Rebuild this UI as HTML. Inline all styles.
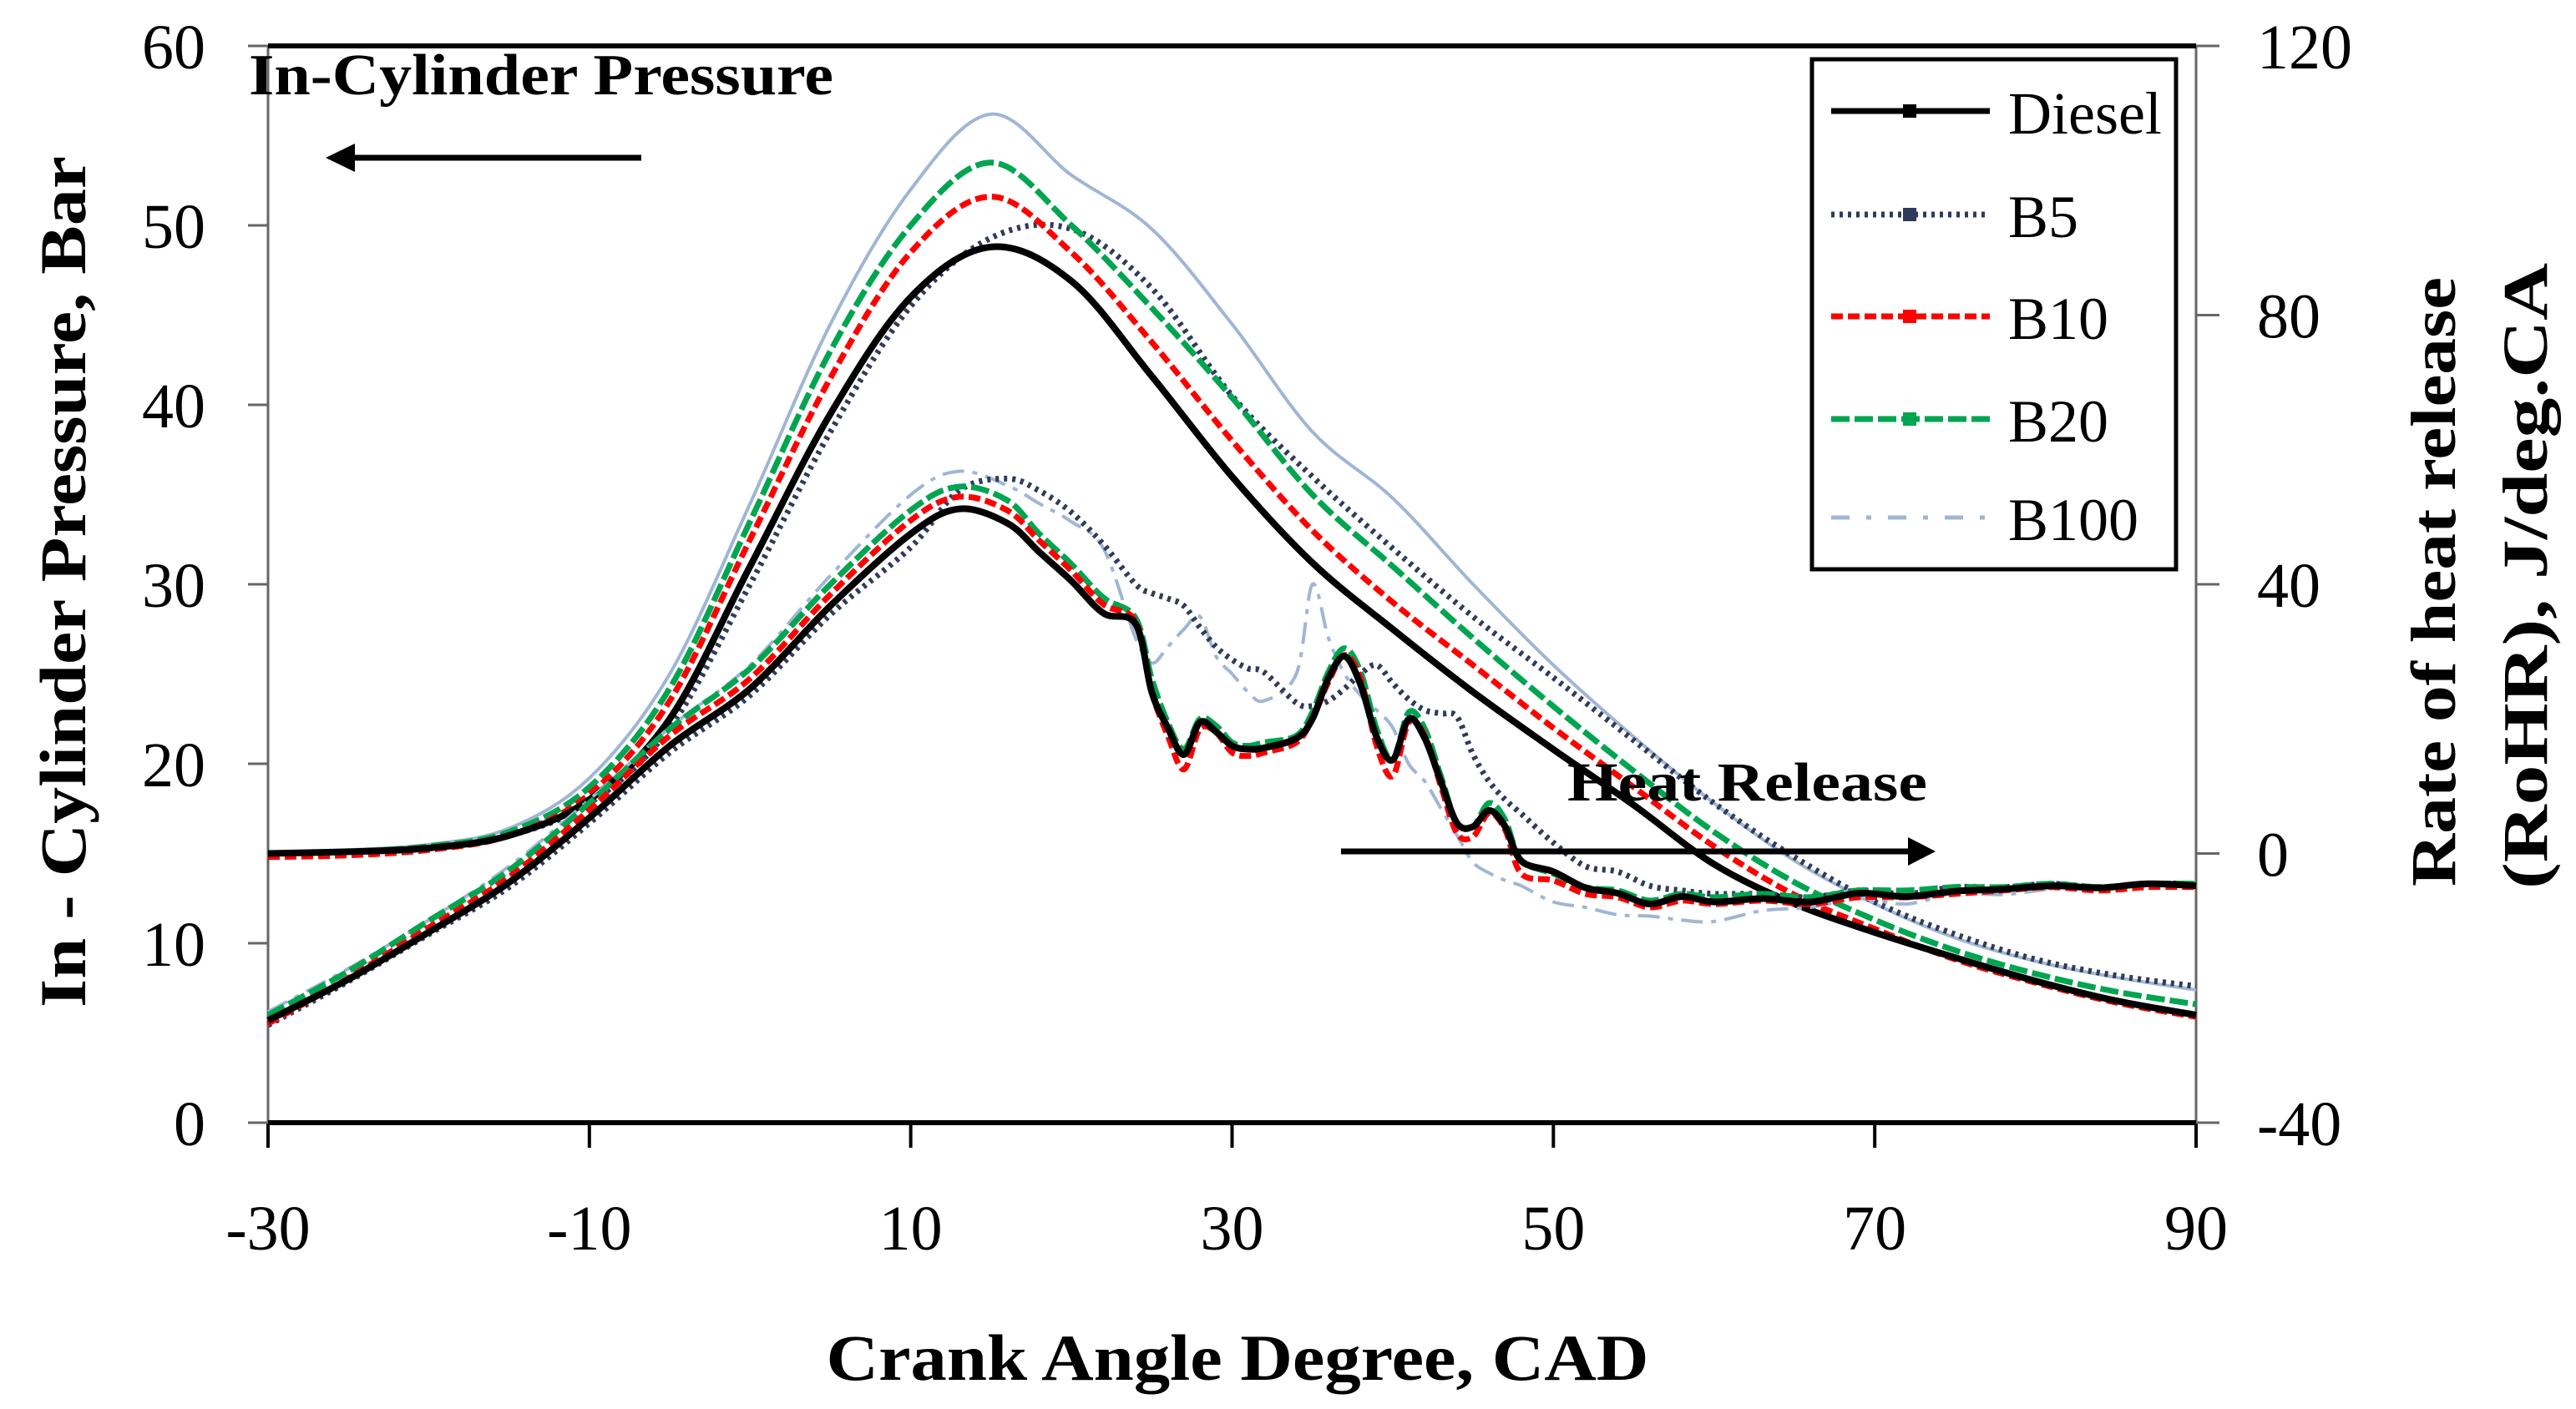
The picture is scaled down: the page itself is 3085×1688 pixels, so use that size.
<!DOCTYPE html>
<html><head><meta charset="utf-8"><style>
html,body{margin:0;padding:0;background:#fff;}
svg{display:block;}
text{font-family:"Liberation Serif",serif;fill:#000;}
</style></head><body>
<svg id="chart" width="3085" height="1688" viewBox="0 0 3085 1688" xmlns="http://www.w3.org/2000/svg">
<rect width="3085" height="1688" fill="#fff"/>
<g id="axes"></g>
<g id="series"></g>
<text x="298" y="113" font-size="70" font-weight="bold" textLength="700" lengthAdjust="spacingAndGlyphs">In-Cylinder Pressure</text>
<g>
<line x1="420" y1="189" x2="768" y2="189" stroke="#000" stroke-width="7"/>
<polygon points="390,189 425,172 425,206" fill="#000"/>
</g>
<text x="1877" y="959" font-size="66" font-weight="bold" textLength="431" lengthAdjust="spacingAndGlyphs">Heat Release</text>
<g>
<line x1="1606" y1="1020" x2="2290" y2="1020" stroke="#000" stroke-width="7"/>
<polygon points="2318,1020 2285,1003 2285,1037" fill="#000"/>
</g>
<text x="1482" y="1653" font-size="78" font-weight="bold" text-anchor="middle" textLength="985" lengthAdjust="spacingAndGlyphs">Crank Angle Degree, CAD</text>
<text transform="translate(102,697) rotate(-90)" font-size="78" font-weight="bold" text-anchor="middle" textLength="1020" lengthAdjust="spacingAndGlyphs">In - Cylinder Pressure,  Bar</text>
<text transform="translate(2940,697) rotate(-90)" font-size="76" font-weight="bold" text-anchor="middle" textLength="730" lengthAdjust="spacingAndGlyphs">Rate of heat release</text>
<text transform="translate(3050,690) rotate(-90)" font-size="76" font-weight="bold" text-anchor="middle" textLength="750" lengthAdjust="spacingAndGlyphs">(RoHR), J/deg.CA</text>
<g id="legend"></g>
</svg>
<script>
// ---- data ----
const pCad = [-30,-25,-20,-15,-10,-5,0,5,10,15,20,25,30,35,40,45,50,55,60,65,70,75,80,85,90];
const pDiesel = [15,15.1,15.3,16,18,22.5,31,39.5,46,48.8,46.9,41.6,36,31.2,27.5,24,20.8,17.7,14.4,12.2,10.6,9.2,7.9,6.8,6];
const pB5 = [15,15.1,15.3,16,17.8,22,30,38.5,45.5,49.3,49.8,46.5,40.5,36,32,28.2,24.8,21.3,17.8,14.8,12.3,10.5,9.1,8.2,7.6];
const pB10 = [14.8,14.9,15.2,16,18.3,23.5,32.5,41.5,48.5,51.6,48.5,43.5,38,33,29,25.5,22,18.7,15.4,12.7,10.8,9.1,7.8,6.7,5.9];
const pB20 = [15,15.1,15.4,16.2,18.7,24.2,33.5,43,50,53.5,50,45.4,40.4,35,31,27,23.2,19.6,16.2,13.4,11.3,9.6,8.3,7.3,6.6];
const pB100 = [15,15.2,15.5,16.4,19.2,25,34.5,44.5,52,56.2,52.8,49.8,44.5,38.5,34.8,30,25.5,21.5,17.8,14.6,12.2,10.3,9,8.1,7.4];
const hrCad = [-30,-25,-20,-15,-10,-5,0,5,10,13,16,18,20,22,24,25,26,27,28,29,30,31,32,34,35,36,37,38,39,40,41,42,43,44,45,46,47,48,50,52,54,56,58,60,63,66,69,72,75,78,81,84,87,90];
const hrDiesel = [-24.8,-18.7,-11.7,-4.3,5.3,16,24.5,36.8,47.5,51.2,49.1,44.8,40.5,35.7,34.1,24,18.7,14.7,19.5,18.1,16,15.5,15.7,17.1,20,26.1,29.3,25.1,17.3,13.9,20,17.1,10.7,4.5,4,6.4,4,-1.1,-2.7,-5.1,-5.9,-7.5,-6.4,-7.2,-6.7,-7.2,-5.9,-6.4,-5.6,-5.3,-4.8,-5.1,-4.5,-4.8];
const hrB5 = [-25.5,-19,-12,-5,4.5,15,23.5,35.5,45.5,53.9,55.7,53.9,50.7,45.9,40,38.7,37.9,36.8,33.6,30.7,28.8,27.5,26.9,22.4,21.9,22.7,24.5,26.7,28,25.3,22.9,21.3,20.8,20.3,14.7,10.7,8,5.9,1.6,-1.9,-2.7,-4.8,-5.5,-6,-6,-6.5,-5.5,-6,-5,-5,-4.5,-5,-4.5,-4.5];
const hrB10 = [-25.3,-18.5,-11,-3.5,6.5,17.5,26,38.5,49.5,53,51,46.5,42,37,34.5,24,17.5,12.5,18.5,18,15,14.5,15,16.5,20,25.5,29.5,26,16,11.5,19.5,17.5,10,3,2.5,6,3.5,-3,-4,-6,-6.5,-8,-7,-7.5,-7,-7.5,-6.5,-6.5,-6,-5.5,-5,-5.5,-5,-5];
const hrB20 = [-24,-17.5,-10,-2.5,7.5,18.5,27.5,40,51,54.5,52.5,47.5,43,38,35,26,19.5,15.5,20,19,16.5,16,16.5,17.5,21,27,30.5,27,18.5,14,21,18.5,11.5,4.5,4,7.5,5,-1,-3,-5,-5.5,-7,-6,-6.5,-6,-6.5,-5.5,-5.5,-5,-5,-4.5,-5,-4.5,-4.5];
const hrB100 = [-23.5,-17.1,-9.9,-1.9,8,18.7,28,41.3,53.3,56.8,54.7,52,49.3,45.3,32,28.3,30.7,33.3,35.2,29.3,26.7,24,22.7,26.7,40,32,26.7,23.5,21.3,18.7,13.3,10.7,6.7,2.7,-1.3,-2.9,-4,-4.8,-7.2,-8,-9.1,-9.3,-9.9,-10.1,-8.5,-8,-6.7,-7.5,-5.9,-6.1,-5.3,-5.1,-4.8,-4.5];
const xTicks = [-30,-10,10,30,50,70,90];
const yLeftTicks = [0,10,20,30,40,50,60];
const yRightTicks = [-40,0,40,80,120];
const seriesNames = ["Diesel","B5","B10","B20","B100"];

// ---- scales ----
const X0=321, X1=2630, Y0=1345, Y1=55;
const xs = v => X0 + (v+30)/120*(X1-X0);
const yl = v => Y0 - v/60*(Y0-Y1);
const yr = v => Y0 - (v+40)/160*(Y0-Y1);
const NS="http://www.w3.org/2000/svg";
function mk(tag, parent){const e=document.createElementNS(NS,tag);parent.appendChild(e);return e;}

const axes=document.getElementById('axes');
let l=mk('line',axes);l.setAttribute('x1',X0);l.setAttribute('x2',X0);l.setAttribute('y1',Y1);l.setAttribute('y2',Y0);l.setAttribute('stroke','#666');l.setAttribute('stroke-width','3');


let r=mk('line',axes);r.setAttribute('x1',X1);r.setAttribute('x2',X1);r.setAttribute('y1',Y1);r.setAttribute('y2',Y0);r.setAttribute('stroke','#666');r.setAttribute('stroke-width','3');


let t=mk('line',axes);t.setAttribute('x1',X0);t.setAttribute('x2',X1);t.setAttribute('y1',Y1);t.setAttribute('y2',Y1);t.setAttribute('stroke','#000');t.setAttribute('stroke-width','6');


let b=mk('line',axes);b.setAttribute('x1',X0);b.setAttribute('x2',X1);b.setAttribute('y1',Y0);b.setAttribute('y2',Y0);b.setAttribute('stroke','#000');b.setAttribute('stroke-width','6');


xTicks.forEach(v=>{
  const tk=mk('line',axes);tk.setAttribute('x1',xs(v));tk.setAttribute('x2',xs(v));tk.setAttribute('y1',Y0);tk.setAttribute('y2',Y0+30);tk.setAttribute('stroke','#000');tk.setAttribute('stroke-width','4');
  
  
  const tx=mk('text',axes);tx.setAttribute('x',xs(v));tx.setAttribute('y',1497);tx.setAttribute('font-size','76');tx.setAttribute('text-anchor','middle');tx.textContent=v;
  
  
});
yLeftTicks.forEach(v=>{
  const tk=mk('line',axes);tk.setAttribute('x1',X0-24);tk.setAttribute('x2',X0);tk.setAttribute('y1',yl(v));tk.setAttribute('y2',yl(v));tk.setAttribute('stroke','#666');tk.setAttribute('stroke-width','3');
  
  
  const tx=mk('text',axes);tx.setAttribute('x',246);tx.setAttribute('y',yl(v)+27);tx.setAttribute('font-size','76');tx.setAttribute('text-anchor','end');tx.textContent=v;
  
  
});
yRightTicks.forEach(v=>{
  const tk=mk('line',axes);tk.setAttribute('x1',X1);tk.setAttribute('x2',X1+28);tk.setAttribute('y1',yr(v));tk.setAttribute('y2',yr(v));tk.setAttribute('stroke','#666');tk.setAttribute('stroke-width','3');
  
  
  const tx=mk('text',axes);tx.setAttribute('x',2703);tx.setAttribute('y',yr(v)+27);tx.setAttribute('font-size','76');tx.textContent=v;
  
  
});

const styles = {
  "Diesel":{c:"#000000",w:8,d:"",m:"square"},
  "B5":{c:"#2f3a5c",w:7,d:"4 6",m:"dot"},
  "B10":{c:"#ff0000",w:7,d:"14 6",m:"dot"},
  "B20":{c:"#00a550",w:7,d:"22 6",m:"dot"},
  "B100":{c:"#9fb6d4",w:4,d:"",m:"none"}
};
const hrStyleDash = {"B100":"26 10 6 10"};
const pData = {"Diesel":pDiesel,"B5":pB5,"B10":pB10,"B20":pB20,"B100":pB100};
const hrData = {"Diesel":hrDiesel,"B5":hrB5,"B10":hrB10,"B20":hrB20,"B100":hrB100};
const sg=document.getElementById('series');
const order=["B100","B5","B20","B10","Diesel"];
function smoothPath(pts){
  let d='M'+pts[0][0].toFixed(1)+','+pts[0][1].toFixed(1);
  for(let i=0;i<pts.length-1;i++){
    const p0=pts[i-1]||pts[i], p1=pts[i], p2=pts[i+1], p3=pts[i+2]||pts[i+1];
    const c1x=p1[0]+(p2[0]-p0[0])/6, c1y=p1[1]+(p2[1]-p0[1])/6;
    const c2x=p2[0]-(p3[0]-p1[0])/6, c2y=p2[1]-(p3[1]-p1[1])/6;
    d+='C'+c1x.toFixed(1)+','+c1y.toFixed(1)+' '+c2x.toFixed(1)+','+c2y.toFixed(1)+' '+p2[0].toFixed(1)+','+p2[1].toFixed(1);
  }
  return d;
}
function drawLine(xv,yv,yscale,name,kind){
  const s=styles[name];
  const pts=xv.map((x,i)=>[xs(x),yscale(yv[i])]);
  const p=mk('path',sg);
  p.setAttribute('d',smoothPath(pts));p.setAttribute('fill','none');p.setAttribute('stroke',s.c);p.setAttribute('stroke-width',s.w);p.setAttribute('stroke-linejoin','round');
  const dash = (kind==='hr' && hrStyleDash[name]) ? hrStyleDash[name] : s.d;
  if(dash)p.setAttribute('stroke-dasharray',dash);
  
  
}
order.forEach(n=>drawLine(pCad,pData[n],yl,n,'pressure'));
order.forEach(n=>drawLine(hrCad,hrData[n],yr,n,'hr'));

const lg=document.getElementById('legend');
const box=mk('rect',lg);box.setAttribute('x',2170);box.setAttribute('y',71);box.setAttribute('width',436);box.setAttribute('height',611);box.setAttribute('fill','#fff');box.setAttribute('stroke','#000');box.setAttribute('stroke-width','5');


const legY=[133,257,379,502,620];
seriesNames.forEach((n,i)=>{
  const s=styles[n];
  const ln=mk('line',lg);ln.setAttribute('x1',2193);ln.setAttribute('x2',2383);ln.setAttribute('y1',legY[i]);ln.setAttribute('y2',legY[i]);ln.setAttribute('stroke',s.c);ln.setAttribute('stroke-width',n==='B100'?5:7);
  const dash = n==='B100' ? "22 20 6 20" : s.d;
  if(dash)ln.setAttribute('stroke-dasharray',dash);
  
  
  if(n!=='B100'){
    const mkr=mk('rect',lg);mkr.setAttribute('x',2279);mkr.setAttribute('y',legY[i]-8);mkr.setAttribute('width',16);mkr.setAttribute('height',16);mkr.setAttribute('fill',s.c);
    
    
  }
  const tx=mk('text',lg);tx.setAttribute('x',2405);tx.setAttribute('y',legY[i]+27);tx.setAttribute('font-size','72');tx.textContent=n;
  
  
});
</script>
</body></html>
